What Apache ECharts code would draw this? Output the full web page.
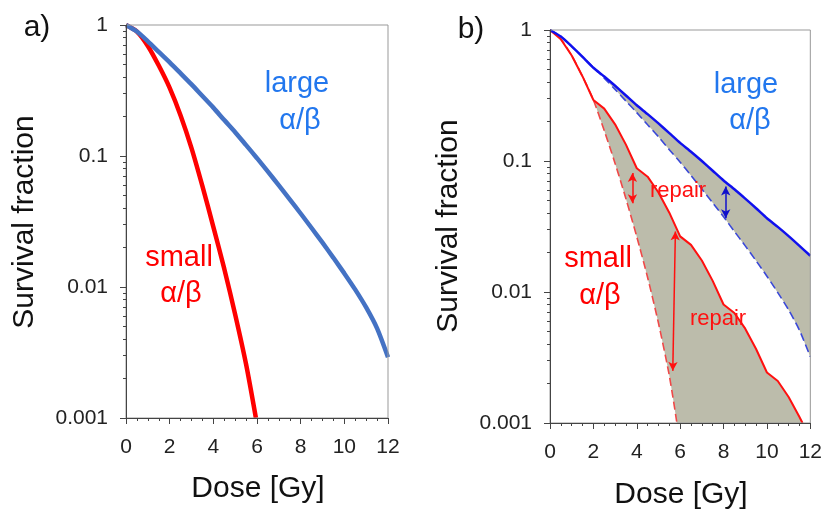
<!DOCTYPE html>
<html>
<head>
<meta charset="utf-8">
<script src="https://cdn.jsdelivr.net/npm/echarts@6/dist/echarts.min.js"></script>
<style>
html, body { margin: 0; padding: 0; background: #fff; }
#survival { width: 825px; height: 510px; }
</style>
</head>
<body>
<div id="survival"></div>
<script>
// dose grid (Gy)
var doseHalf = [0, 0.5, 1, 1.5, 2, 2.5, 3, 3.5, 4, 4.5, 5, 5.5, 6, 6.5, 7, 7.5, 8, 8.5, 9, 9.5, 10, 10.5, 11, 11.5, 12];
var yTicks = [0.001, 0.01, 0.1, 1];

// a) single dose
var largeA = [1, 0.891, 0.75, 0.624, 0.519, 0.428, 0.352, 0.287, 0.234, 0.188, 0.152, 0.121, 0.0962, 0.0759, 0.0597, 0.0467, 0.0364, 0.0282, 0.0218, 0.0167, 0.0127, 0.00955, 0.00698, 0.00483, 0.00291];
var smallDoseA = [0, 0.5, 1, 1.5, 2, 2.5, 3, 3.5, 4, 4.5, 5, 5.5, 5.95];
var smallA = [1, 0.891, 0.692, 0.49, 0.331, 0.204, 0.115, 0.0589, 0.0288, 0.0138, 0.00617, 0.00257, 0.001];

// b) fractionated (solid) vs single dose (dashed)
var largeSolidB = [1, 0.891, 0.75, 0.624, 0.515, 0.4416, 0.375, 0.3162, 0.2661, 0.228, 0.1936, 0.1633, 0.1374, 0.1178, 0.1, 0.0843, 0.071, 0.0608, 0.0516, 0.0436, 0.0366, 0.0314, 0.0267, 0.0225, 0.0189];
var largeDashB = [1, 0.891, 0.75, 0.624, 0.519, 0.428, 0.352, 0.287, 0.234, 0.189, 0.153, 0.122, 0.098, 0.0775, 0.061, 0.048, 0.0375, 0.029, 0.0225, 0.0173, 0.0132, 0.0099, 0.0073, 0.0051, 0.0032];
var smallDoseB = [0, 0.5, 1, 1.5, 2, 2.5, 3, 3.5, 4, 4.5, 5, 5.5, 6, 6.5, 7, 7.5, 8, 8.5, 9, 9.5, 10, 10.5, 11, 11.5, 11.64];
var smallSolidB = [1, 0.851, 0.638, 0.442, 0.292, 0.251, 0.1905, 0.1334, 0.0881, 0.0759, 0.0575, 0.0403, 0.0266, 0.0229, 0.0174, 0.01216, 0.00803, 0.00692, 0.00525, 0.00367, 0.00243, 0.00209, 0.00158, 0.00111, 0.001];
var smallDashDoseB = [0, 0.5, 1, 1.5, 2, 2.5, 3, 3.5, 4, 4.5, 5, 5.5, 5.85];
var smallDashB = [1, 0.851, 0.638, 0.442, 0.292, 0.1706, 0.0959, 0.0515, 0.0264, 0.0129, 0.00578, 0.0023, 0.001];

// repair arrows [dose1, sf1, dose2, sf2]
var arrowRed = [[3.8, 0.081, 3.8, 0.0475], [5.78, 0.029, 5.66, 0.0025]];
var arrowBlue = [[8.1, 0.064, 8.1, 0.0365]];

var FONT = '"Liberation Sans", Arial, sans-serif';
var FILL = '#bcbcab';
var AXIS = '#444';

drawSurvival();

function pairs(xs, ys) {
    var out = [];
    for (var i = 0; i < xs.length; i++) {
        out.push([xs[i], ys[i]]);
    }
    return out;
}

function arrowLines(list) {
    var out = [];
    for (var i = 0; i < list.length; i++) {
        out.push([{ coord: [list[i][0], list[i][1]] }, { coord: [list[i][2], list[i][3]] }]);
    }
    return out;
}

// minor ticks 2..9 in each decade
function logMinor() {
    var out = [];
    for (var d = 0; d < yTicks.length - 1; d++) {
        for (var k = 2; k <= 9; k++) {
            out.push(+(yTicks[d] * k).toPrecision(3));
        }
    }
    return out;
}

function makeX(gridIndex) {
    return {
        type: 'value', gridIndex: gridIndex, min: 0, max: 12, interval: 2, z: 5,
        axisLine: { show: true, lineStyle: { color: AXIS, width: 1 } },
        axisTick: { show: true, length: 6, lineStyle: { color: AXIS } },
        minorTick: { show: true, splitNumber: 4, length: 3, lineStyle: { color: AXIS } },
        splitLine: { show: false },
        axisLabel: { margin: 19, color: '#222', fontSize: 21, fontFamily: FONT }
    };
}

function makeY(gridIndex) {
    return [{
        type: 'log', logBase: 10, gridIndex: gridIndex, min: 0.001, max: 1, z: 5,
        position: 'left',
        axisLine: { show: true, lineStyle: { color: AXIS, width: 1 } },
        axisTick: { show: true, length: 6, lineStyle: { color: AXIS } },
        splitLine: { show: false },
        axisLabel: {
            margin: 18, color: '#222', fontSize: 21, fontFamily: FONT,
            formatter: function (v) { return String(+(+v).toPrecision(3)); }
        }
    }, {
        type: 'log', logBase: 10, gridIndex: gridIndex, min: 0.001, max: 1, z: 5,
        position: 'left', offset: 0,
        axisLine: { show: false },
        axisTick: { show: true, length: 3, lineStyle: { color: AXIS }, customValues: logMinor() },
        axisLabel: { show: false },
        splitLine: { show: false }
    }];
}

function lineSeries(x, y, data, color, width, dash, smooth) {
    return {
        type: 'line', xAxisIndex: x, yAxisIndex: y, data: data,
        showSymbol: false, symbol: 'none', smooth: smooth, silent: true,
        lineStyle: { color: color, width: width, type: dash ? [8, 4] : 'solid' },
        z: 3
    };
}

function areaSeries(x, y, data, color, smooth) {
    return {
        type: 'line', xAxisIndex: x, yAxisIndex: y, data: data,
        showSymbol: false, symbol: 'none', smooth: smooth, silent: true,
        lineStyle: { width: 0, opacity: 0 },
        areaStyle: { color: color, opacity: 1, origin: 'start' },
        z: 1
    };
}

function txt(x, y, s, color, size, rot) {
    return {
        type: 'text', x: x, y: y, rotation: rot || 0, z: 10,
        style: {
            text: s, fill: color, font: size + 'px ' + FONT,
            align: 'center', verticalAlign: 'middle'
        }
    };
}

function drawSurvival() {
    var myChart = echarts.init(document.getElementById('survival'));
    var yA = makeY(0);
    var yB = makeY(1);

    var redSolid = lineSeries(1, 2, pairs(smallDoseB, smallSolidB), '#ff1010', 2, false, false);
    redSolid.markLine = {
        silent: true, symbol: ['arrow', 'arrow'], symbolSize: [7, 9],
        label: { show: false },
        lineStyle: { color: '#ff1010', width: 1.5, type: 'solid' },
        data: arrowLines(arrowRed)
    };
    var blueSolid = lineSeries(1, 2, pairs(doseHalf, largeSolidB), '#1010ee', 2.5, false, 0.2);
    blueSolid.markLine = {
        silent: true, symbol: ['arrow', 'arrow'], symbolSize: [7, 9],
        label: { show: false },
        lineStyle: { color: '#1010cc', width: 1.5, type: 'solid' },
        data: arrowLines(arrowBlue)
    };

    var option = {
        animation: false,
        backgroundColor: '#fff',
        grid: [
            { left: 126, top: 25, width: 262, height: 393, show: true, borderColor: '#999', borderWidth: 1, z: 4 },
            { left: 550, top: 30, width: 263, height: 393, show: true, borderColor: '#999', borderWidth: 1, z: 4 }
        ],
        xAxis: [makeX(0), makeX(1)],
        yAxis: [yA[0], yA[1], yB[0], yB[1]],
        series: [
            // a)
            lineSeries(0, 0, pairs(smallDoseA, smallA), '#ff0000', 4.5, false, 0.25),
            lineSeries(0, 0, pairs(doseHalf, largeA), '#4472c4', 4.5, false, 0.25),
            // b) shaded repair regions
            areaSeries(1, 2, pairs(doseHalf, largeSolidB), FILL, 0.2),
            areaSeries(1, 2, pairs(doseHalf, largeDashB), '#fff', 0.25),
            areaSeries(1, 2, pairs(smallDoseB, smallSolidB), FILL, false),
            areaSeries(1, 2, pairs(smallDashDoseB, smallDashB), '#fff', 0.25),
            // b) curves
            lineSeries(1, 2, pairs(smallDashDoseB, smallDashB), '#f04848', 1.6, true, 0.25),
            redSolid,
            lineSeries(1, 2, pairs(doseHalf, largeDashB), '#3a48d8', 1.6, true, 0.25),
            blueSolid
        ],
        graphic: [
            txt(37, 28, 'a)', '#111', 30),
            txt(471, 30, 'b)', '#111', 30),
            txt(25, 222, 'Survival fraction', '#111', 30, Math.PI / 2),
            txt(449, 226, 'Survival fraction', '#111', 30, Math.PI / 2),
            txt(258, 489, 'Dose [Gy]', '#111', 30),
            txt(681, 495, 'Dose [Gy]', '#111', 30),
            txt(297, 84, 'large', '#2277ee', 29),
            txt(300, 121, 'α/β', '#2277ee', 29),
            txt(179, 258, 'small', '#ff0000', 29),
            txt(181, 294, 'α/β', '#ff0000', 29),
            txt(746, 85, 'large', '#2277ee', 29),
            txt(750, 121, 'α/β', '#2277ee', 29),
            txt(598, 259, 'small', '#ff0000', 29),
            txt(600, 296, 'α/β', '#ff0000', 29),
            txt(678, 191, 'repair', '#ff1010', 22),
            txt(718, 319, 'repair', '#ff1010', 22)
        ]
    };
    myChart.setOption(option);
}
</script>
</body>
</html>
